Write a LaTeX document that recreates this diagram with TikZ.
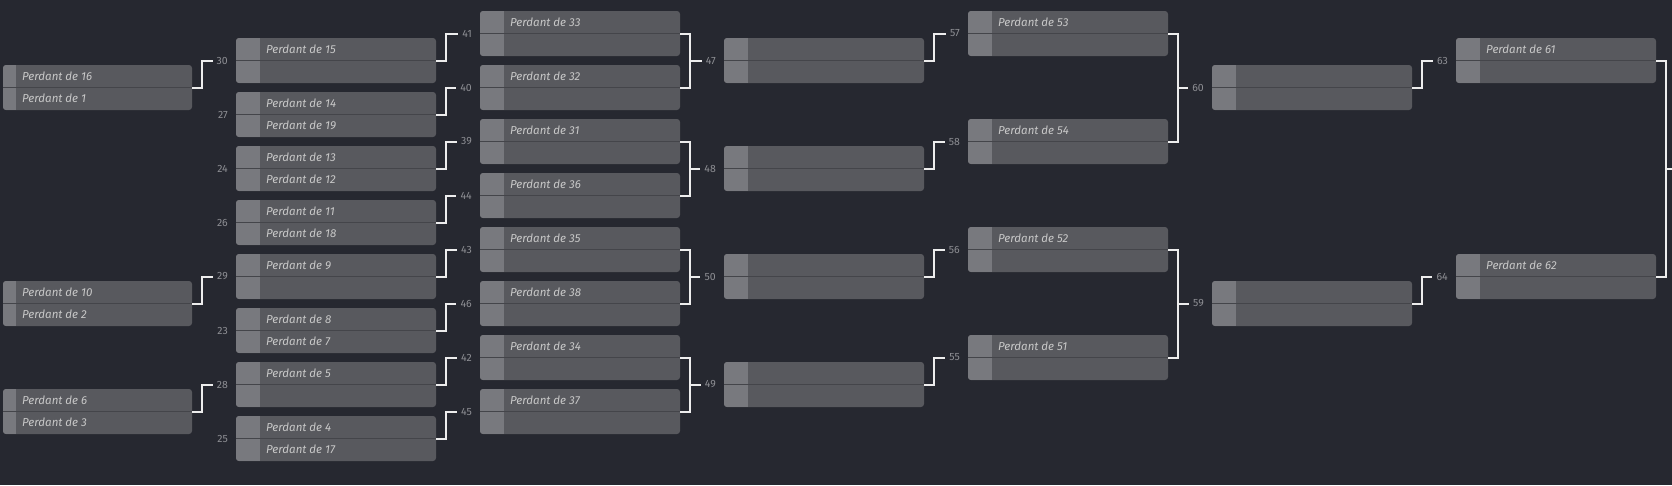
\documentclass[tikz,border=0pt]{standalone}
\usepackage{fontspec}
\setmainfont{Fira Sans}
\usepackage{xcolor}
\usepackage{tikz}
\usetikzlibrary{positioning}

\definecolor{bgdark}{HTML}{262830}
\definecolor{boxgray}{HTML}{58595E}
\definecolor{seedgray}{HTML}{78797E}
\definecolor{divider}{HTML}{44454A}
\definecolor{nametext}{HTML}{C8C8C8}
\definecolor{numgray}{HTML}{8E8F94}
\definecolor{bracketwhite}{HTML}{EDEDED}

\tikzset{
    matchbox/.style={fill=boxgray, rounded corners=3pt, minimum height=45pt, inner sep=0pt, outer sep=0pt,
        path picture={
            \fill[seedgray, sharp corners] (path picture bounding box.north west) rectangle ([xshift=#1]path picture bounding box.south west);
            \draw[divider, line width=1pt, sharp corners] (path picture bounding box.west) -- (path picture bounding box.east);
        }},
    matchbox/.default=24pt
}

% one match: name, x, y, seed width, top entrant, bottom entrant
\newcommand{\duel}[6]{%
    \node[matchbox=#4, minimum width={176pt+#4}] (#1) at (#2,#3) {};
    \node[player] (#1a) at ([xshift=#4+6pt, yshift=11.25pt]#1.west) {#5};
    \node[player] (#1b) at ([xshift=#4+6pt, yshift=-11.25pt]#1.west) {#6};
}

\begin{document}
\begin{tikzpicture}[
    x=1pt, y=-1pt,
    node distance=4pt,
    player/.style={anchor=west, inner sep=0pt, text=nametext, font=\fontsize{11.5}{13}\selectfont\itshape},
    num/.style={text=numgray, font=\fontsize{10.5}{12}\selectfont, inner xsep=4pt, inner ysep=1pt},
    bracket/.style={draw=bracketwhite, line width=2pt}
]
\fill[bgdark] (0,0) rectangle (1672,485);
\useasboundingbox (0,0) rectangle (1672,485);

% first round
\duel{p16}{97.5}{87.5}{13pt}{Perdant de 16}{Perdant de 1}
\duel{p10}{97.5}{303.5}{13pt}{Perdant de 10}{Perdant de 2}
\duel{p6}{97.5}{411.5}{13pt}{Perdant de 6}{Perdant de 3}

% second round
\duel{m30}{336}{60.5}{24pt}{Perdant de 15}{}
\duel{m27}{336}{114.5}{24pt}{Perdant de 14}{Perdant de 19}
\duel{m24}{336}{168.5}{24pt}{Perdant de 13}{Perdant de 12}
\duel{m26}{336}{222.5}{24pt}{Perdant de 11}{Perdant de 18}
\duel{m29}{336}{276.5}{24pt}{Perdant de 9}{}
\duel{m23}{336}{330.5}{24pt}{Perdant de 8}{Perdant de 7}
\duel{m28}{336}{384.5}{24pt}{Perdant de 5}{}
\duel{m25}{336}{438.5}{24pt}{Perdant de 4}{Perdant de 17}

% third round
\duel{m41}{580}{33.5}{24pt}{Perdant de 33}{}
\duel{m40}{580}{87.5}{24pt}{Perdant de 32}{}
\duel{m39}{580}{141.5}{24pt}{Perdant de 31}{}
\duel{m44}{580}{195.5}{24pt}{Perdant de 36}{}
\duel{m43}{580}{249.5}{24pt}{Perdant de 35}{}
\duel{m46}{580}{303.5}{24pt}{Perdant de 38}{}
\duel{m42}{580}{357.5}{24pt}{Perdant de 34}{}
\duel{m45}{580}{411.5}{24pt}{Perdant de 37}{}

% fourth round
\duel{m47}{824}{60.5}{24pt}{}{}
\duel{m48}{824}{168.5}{24pt}{}{}
\duel{m50}{824}{276.5}{24pt}{}{}
\duel{m49}{824}{384.5}{24pt}{}{}

% fifth round
\duel{m57}{1068}{33.5}{24pt}{Perdant de 53}{}
\duel{m58}{1068}{141.5}{24pt}{Perdant de 54}{}
\duel{m56}{1068}{249.5}{24pt}{Perdant de 52}{}
\duel{m55}{1068}{357.5}{24pt}{Perdant de 51}{}

% sixth and seventh round
\duel{m60}{1312}{87.5}{24pt}{}{}
\duel{m59}{1312}{303.5}{24pt}{}{}
\duel{m63}{1556}{60.5}{24pt}{Perdant de 61}{}
\duel{m64}{1556}{276.5}{24pt}{Perdant de 62}{}

% match numbers
\node[num, left=of m30] (l30) {30};
\node[num, left=of m27] (l27) {27};
\node[num, left=of m24] (l24) {24};
\node[num, left=of m26] (l26) {26};
\node[num, left=of m29] (l29) {29};
\node[num, left=of m23] (l23) {23};
\node[num, left=of m28] (l28) {28};
\node[num, left=of m25] (l25) {25};
\node[num, left=of m41] (l41) {41};
\node[num, left=of m40] (l40) {40};
\node[num, left=of m39] (l39) {39};
\node[num, left=of m44] (l44) {44};
\node[num, left=of m43] (l43) {43};
\node[num, left=of m46] (l46) {46};
\node[num, left=of m42] (l42) {42};
\node[num, left=of m45] (l45) {45};
\node[num, left=of m47] (l47) {47};
\node[num, left=of m48] (l48) {48};
\node[num, left=of m50] (l50) {50};
\node[num, left=of m49] (l49) {49};
\node[num, left=of m57] (l57) {57};
\node[num, left=of m58] (l58) {58};
\node[num, left=of m56] (l56) {56};
\node[num, left=of m55] (l55) {55};
\node[num, left=of m60] (l60) {60};
\node[num, left=of m59] (l59) {59};
\node[num, left=of m63] (l63) {63};
\node[num, left=of m64] (l64) {64};
\coordinate (edge) at (1672,168.5);

% brackets
\draw[bracket] (p16.east) -- ++(10,0) |- (l30.west);
\draw[bracket] (p10.east) -- ++(10,0) |- (l29.west);
\draw[bracket] (p6.east) -- ++(10,0) |- (l28.west);
\draw[bracket] (m30.east) -- ++(10,0) |- (l41.west);
\draw[bracket] (m27.east) -- ++(10,0) |- (l40.west);
\draw[bracket] (m24.east) -- ++(10,0) |- (l39.west);
\draw[bracket] (m26.east) -- ++(10,0) |- (l44.west);
\draw[bracket] (m29.east) -- ++(10,0) |- (l43.west);
\draw[bracket] (m23.east) -- ++(10,0) |- (l46.west);
\draw[bracket] (m28.east) -- ++(10,0) |- (l42.west);
\draw[bracket] (m25.east) -- ++(10,0) |- (l45.west);
\draw[bracket] (m41.east) -- ++(10,0) |- (m40.east);
\draw[bracket] ([xshift=10pt]m41.east) |- (l47.west);
\draw[bracket] (m39.east) -- ++(10,0) |- (m44.east);
\draw[bracket] ([xshift=10pt]m39.east) |- (l48.west);
\draw[bracket] (m43.east) -- ++(10,0) |- (m46.east);
\draw[bracket] ([xshift=10pt]m43.east) |- (l50.west);
\draw[bracket] (m42.east) -- ++(10,0) |- (m45.east);
\draw[bracket] ([xshift=10pt]m42.east) |- (l49.west);
\draw[bracket] (m47.east) -- ++(10,0) |- (l57.west);
\draw[bracket] (m48.east) -- ++(10,0) |- (l58.west);
\draw[bracket] (m50.east) -- ++(10,0) |- (l56.west);
\draw[bracket] (m49.east) -- ++(10,0) |- (l55.west);
\draw[bracket] (m57.east) -- ++(10,0) |- (m58.east);
\draw[bracket] ([xshift=10pt]m57.east) |- (l60.west);
\draw[bracket] (m56.east) -- ++(10,0) |- (m55.east);
\draw[bracket] ([xshift=10pt]m56.east) |- (l59.west);
\draw[bracket] (m60.east) -- ++(10,0) |- (l63.west);
\draw[bracket] (m59.east) -- ++(10,0) |- (l64.west);
\draw[bracket] (m63.east) -- ++(10,0) |- (m64.east);
\draw[bracket] ([xshift=10pt]m63.east) |- (edge);
\end{tikzpicture}
\end{document}
